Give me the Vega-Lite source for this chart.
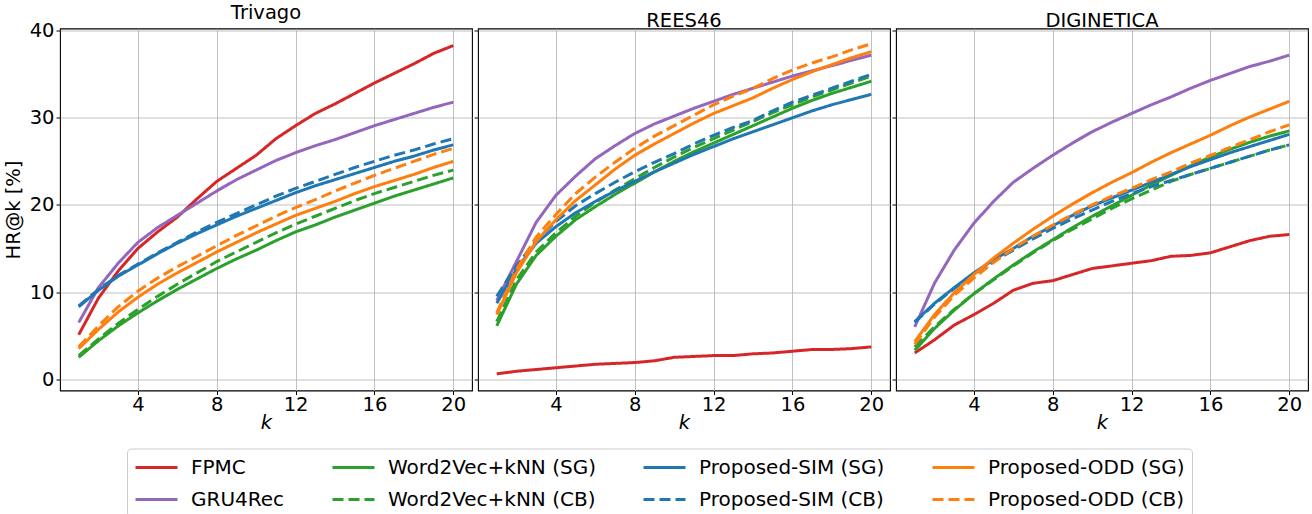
{
  "$schema": "https://vega.github.io/schema/vega-lite/v6.json",
  "padding": {"left": 2, "top": 1.5, "right": 2, "bottom": 0},
  "background": "white",
  "spacing": -1,
  "config": {
    "font": "DejaVu Sans",
    "view": {"stroke": "#000000", "strokeWidth": 1.1},
    "axis": {
      "domain": false,
      "grid": true,
      "gridColor": "#b0b0b0",
      "gridWidth": 0.8,
      "tickColor": "#000000",
      "tickSize": 4,
      "tickWidth": 1,
      "labelFontSize": 19.5,
      "labelColor": "#000000",
      "labelPadding": 2,
      "titleFontSize": 19.5,
      "titleFontWeight": "normal",
      "titleColor": "#000000"
    },
    "axisX": {"labelPadding": 1, "titlePadding": -1},
    "title": {"fontSize": 19.5, "fontWeight": "normal", "color": "#000000", "offset": -2.5},
    "legend": {
      "orient": "none",
      "legendX": 67,
      "legendY": 420,
      "columns": 4,
      "symbolType": "M-1,0H3",
      "symbolSize": 441,
      "symbolStrokeWidth": 3,
      "labelFontSize": 20,
      "labelColor": "#000000",
      "labelLimit": 400,
      "columnPadding": 41,
      "rowPadding": 10,
      "labelOffset": 33,
      "padding": 7,
      "strokeColor": "#cccccc",
      "cornerRadius": 4,
      "fillColor": "#ffffff"
    }
  },
  "resolve": {
    "scale": {"color": "shared", "strokeDash": "shared"},
    "legend": {"color": "shared", "strokeDash": "shared"}
  },
  "data": {"values": [
    {"dataset":"Trivago","method":"FPMC","k":1,"hr":5.1},{"dataset":"Trivago","method":"FPMC","k":2,"hr":9.3},{"dataset":"Trivago","method":"FPMC","k":3,"hr":12.4},{"dataset":"Trivago","method":"FPMC","k":4,"hr":15.0},{"dataset":"Trivago","method":"FPMC","k":5,"hr":16.9},{"dataset":"Trivago","method":"FPMC","k":6,"hr":18.6},{"dataset":"Trivago","method":"FPMC","k":7,"hr":20.7},{"dataset":"Trivago","method":"FPMC","k":8,"hr":22.7},{"dataset":"Trivago","method":"FPMC","k":9,"hr":24.2},{"dataset":"Trivago","method":"FPMC","k":10,"hr":25.7},{"dataset":"Trivago","method":"FPMC","k":11,"hr":27.6},{"dataset":"Trivago","method":"FPMC","k":12,"hr":29.1},{"dataset":"Trivago","method":"FPMC","k":13,"hr":30.5},{"dataset":"Trivago","method":"FPMC","k":14,"hr":31.6},{"dataset":"Trivago","method":"FPMC","k":15,"hr":32.8},{"dataset":"Trivago","method":"FPMC","k":16,"hr":34.0},{"dataset":"Trivago","method":"FPMC","k":17,"hr":35.1},{"dataset":"Trivago","method":"FPMC","k":18,"hr":36.2},{"dataset":"Trivago","method":"FPMC","k":19,"hr":37.4},{"dataset":"Trivago","method":"FPMC","k":20,"hr":38.3},
    {"dataset":"Trivago","method":"GRU4Rec","k":1,"hr":6.5},{"dataset":"Trivago","method":"GRU4Rec","k":2,"hr":10.5},{"dataset":"Trivago","method":"GRU4Rec","k":3,"hr":13.3},{"dataset":"Trivago","method":"GRU4Rec","k":4,"hr":15.7},{"dataset":"Trivago","method":"GRU4Rec","k":5,"hr":17.4},{"dataset":"Trivago","method":"GRU4Rec","k":6,"hr":18.8},{"dataset":"Trivago","method":"GRU4Rec","k":7,"hr":20.2},{"dataset":"Trivago","method":"GRU4Rec","k":8,"hr":21.6},{"dataset":"Trivago","method":"GRU4Rec","k":9,"hr":22.9},{"dataset":"Trivago","method":"GRU4Rec","k":10,"hr":24.0},{"dataset":"Trivago","method":"GRU4Rec","k":11,"hr":25.1},{"dataset":"Trivago","method":"GRU4Rec","k":12,"hr":26.0},{"dataset":"Trivago","method":"GRU4Rec","k":13,"hr":26.8},{"dataset":"Trivago","method":"GRU4Rec","k":14,"hr":27.5},{"dataset":"Trivago","method":"GRU4Rec","k":15,"hr":28.3},{"dataset":"Trivago","method":"GRU4Rec","k":16,"hr":29.1},{"dataset":"Trivago","method":"GRU4Rec","k":17,"hr":29.8},{"dataset":"Trivago","method":"GRU4Rec","k":18,"hr":30.5},{"dataset":"Trivago","method":"GRU4Rec","k":19,"hr":31.2},{"dataset":"Trivago","method":"GRU4Rec","k":20,"hr":31.8},
    {"dataset":"Trivago","method":"Word2Vec+kNN (SG)","k":1,"hr":2.5},{"dataset":"Trivago","method":"Word2Vec+kNN (SG)","k":2,"hr":4.4},{"dataset":"Trivago","method":"Word2Vec+kNN (SG)","k":3,"hr":6.1},{"dataset":"Trivago","method":"Word2Vec+kNN (SG)","k":4,"hr":7.6},{"dataset":"Trivago","method":"Word2Vec+kNN (SG)","k":5,"hr":9.0},{"dataset":"Trivago","method":"Word2Vec+kNN (SG)","k":6,"hr":10.3},{"dataset":"Trivago","method":"Word2Vec+kNN (SG)","k":7,"hr":11.5},{"dataset":"Trivago","method":"Word2Vec+kNN (SG)","k":8,"hr":12.7},{"dataset":"Trivago","method":"Word2Vec+kNN (SG)","k":9,"hr":13.8},{"dataset":"Trivago","method":"Word2Vec+kNN (SG)","k":10,"hr":14.8},{"dataset":"Trivago","method":"Word2Vec+kNN (SG)","k":11,"hr":15.9},{"dataset":"Trivago","method":"Word2Vec+kNN (SG)","k":12,"hr":16.9},{"dataset":"Trivago","method":"Word2Vec+kNN (SG)","k":13,"hr":17.7},{"dataset":"Trivago","method":"Word2Vec+kNN (SG)","k":14,"hr":18.6},{"dataset":"Trivago","method":"Word2Vec+kNN (SG)","k":15,"hr":19.4},{"dataset":"Trivago","method":"Word2Vec+kNN (SG)","k":16,"hr":20.2},{"dataset":"Trivago","method":"Word2Vec+kNN (SG)","k":17,"hr":21.0},{"dataset":"Trivago","method":"Word2Vec+kNN (SG)","k":18,"hr":21.7},{"dataset":"Trivago","method":"Word2Vec+kNN (SG)","k":19,"hr":22.4},{"dataset":"Trivago","method":"Word2Vec+kNN (SG)","k":20,"hr":23.1},
    {"dataset":"Trivago","method":"Word2Vec+kNN (CB)","k":1,"hr":2.7},{"dataset":"Trivago","method":"Word2Vec+kNN (CB)","k":2,"hr":4.6},{"dataset":"Trivago","method":"Word2Vec+kNN (CB)","k":3,"hr":6.4},{"dataset":"Trivago","method":"Word2Vec+kNN (CB)","k":4,"hr":8.0},{"dataset":"Trivago","method":"Word2Vec+kNN (CB)","k":5,"hr":9.5},{"dataset":"Trivago","method":"Word2Vec+kNN (CB)","k":6,"hr":10.9},{"dataset":"Trivago","method":"Word2Vec+kNN (CB)","k":7,"hr":12.2},{"dataset":"Trivago","method":"Word2Vec+kNN (CB)","k":8,"hr":13.5},{"dataset":"Trivago","method":"Word2Vec+kNN (CB)","k":9,"hr":14.6},{"dataset":"Trivago","method":"Word2Vec+kNN (CB)","k":10,"hr":15.7},{"dataset":"Trivago","method":"Word2Vec+kNN (CB)","k":11,"hr":16.8},{"dataset":"Trivago","method":"Word2Vec+kNN (CB)","k":12,"hr":17.8},{"dataset":"Trivago","method":"Word2Vec+kNN (CB)","k":13,"hr":18.7},{"dataset":"Trivago","method":"Word2Vec+kNN (CB)","k":14,"hr":19.6},{"dataset":"Trivago","method":"Word2Vec+kNN (CB)","k":15,"hr":20.5},{"dataset":"Trivago","method":"Word2Vec+kNN (CB)","k":16,"hr":21.3},{"dataset":"Trivago","method":"Word2Vec+kNN (CB)","k":17,"hr":22.0},{"dataset":"Trivago","method":"Word2Vec+kNN (CB)","k":18,"hr":22.7},{"dataset":"Trivago","method":"Word2Vec+kNN (CB)","k":19,"hr":23.4},{"dataset":"Trivago","method":"Word2Vec+kNN (CB)","k":20,"hr":24.0},
    {"dataset":"Trivago","method":"Proposed-SIM (SG)","k":1,"hr":8.3},{"dataset":"Trivago","method":"Proposed-SIM (SG)","k":2,"hr":10.2},{"dataset":"Trivago","method":"Proposed-SIM (SG)","k":3,"hr":11.8},{"dataset":"Trivago","method":"Proposed-SIM (SG)","k":4,"hr":13.1},{"dataset":"Trivago","method":"Proposed-SIM (SG)","k":5,"hr":14.4},{"dataset":"Trivago","method":"Proposed-SIM (SG)","k":6,"hr":15.6},{"dataset":"Trivago","method":"Proposed-SIM (SG)","k":7,"hr":16.7},{"dataset":"Trivago","method":"Proposed-SIM (SG)","k":8,"hr":17.7},{"dataset":"Trivago","method":"Proposed-SIM (SG)","k":9,"hr":18.7},{"dataset":"Trivago","method":"Proposed-SIM (SG)","k":10,"hr":19.6},{"dataset":"Trivago","method":"Proposed-SIM (SG)","k":11,"hr":20.5},{"dataset":"Trivago","method":"Proposed-SIM (SG)","k":12,"hr":21.4},{"dataset":"Trivago","method":"Proposed-SIM (SG)","k":13,"hr":22.2},{"dataset":"Trivago","method":"Proposed-SIM (SG)","k":14,"hr":22.9},{"dataset":"Trivago","method":"Proposed-SIM (SG)","k":15,"hr":23.6},{"dataset":"Trivago","method":"Proposed-SIM (SG)","k":16,"hr":24.3},{"dataset":"Trivago","method":"Proposed-SIM (SG)","k":17,"hr":25.0},{"dataset":"Trivago","method":"Proposed-SIM (SG)","k":18,"hr":25.6},{"dataset":"Trivago","method":"Proposed-SIM (SG)","k":19,"hr":26.3},{"dataset":"Trivago","method":"Proposed-SIM (SG)","k":20,"hr":26.9},
    {"dataset":"Trivago","method":"Proposed-SIM (CB)","k":1,"hr":8.4},{"dataset":"Trivago","method":"Proposed-SIM (CB)","k":2,"hr":10.3},{"dataset":"Trivago","method":"Proposed-SIM (CB)","k":3,"hr":11.9},{"dataset":"Trivago","method":"Proposed-SIM (CB)","k":4,"hr":13.2},{"dataset":"Trivago","method":"Proposed-SIM (CB)","k":5,"hr":14.5},{"dataset":"Trivago","method":"Proposed-SIM (CB)","k":6,"hr":15.7},{"dataset":"Trivago","method":"Proposed-SIM (CB)","k":7,"hr":16.9},{"dataset":"Trivago","method":"Proposed-SIM (CB)","k":8,"hr":18.0},{"dataset":"Trivago","method":"Proposed-SIM (CB)","k":9,"hr":19.0},{"dataset":"Trivago","method":"Proposed-SIM (CB)","k":10,"hr":20.0},{"dataset":"Trivago","method":"Proposed-SIM (CB)","k":11,"hr":21.0},{"dataset":"Trivago","method":"Proposed-SIM (CB)","k":12,"hr":21.9},{"dataset":"Trivago","method":"Proposed-SIM (CB)","k":13,"hr":22.7},{"dataset":"Trivago","method":"Proposed-SIM (CB)","k":14,"hr":23.5},{"dataset":"Trivago","method":"Proposed-SIM (CB)","k":15,"hr":24.3},{"dataset":"Trivago","method":"Proposed-SIM (CB)","k":16,"hr":25.0},{"dataset":"Trivago","method":"Proposed-SIM (CB)","k":17,"hr":25.7},{"dataset":"Trivago","method":"Proposed-SIM (CB)","k":18,"hr":26.3},{"dataset":"Trivago","method":"Proposed-SIM (CB)","k":19,"hr":27.0},{"dataset":"Trivago","method":"Proposed-SIM (CB)","k":20,"hr":27.6},
    {"dataset":"Trivago","method":"Proposed-ODD (SG)","k":1,"hr":3.5},{"dataset":"Trivago","method":"Proposed-ODD (SG)","k":2,"hr":5.7},{"dataset":"Trivago","method":"Proposed-ODD (SG)","k":3,"hr":7.7},{"dataset":"Trivago","method":"Proposed-ODD (SG)","k":4,"hr":9.4},{"dataset":"Trivago","method":"Proposed-ODD (SG)","k":5,"hr":10.9},{"dataset":"Trivago","method":"Proposed-ODD (SG)","k":6,"hr":12.2},{"dataset":"Trivago","method":"Proposed-ODD (SG)","k":7,"hr":13.4},{"dataset":"Trivago","method":"Proposed-ODD (SG)","k":8,"hr":14.6},{"dataset":"Trivago","method":"Proposed-ODD (SG)","k":9,"hr":15.7},{"dataset":"Trivago","method":"Proposed-ODD (SG)","k":10,"hr":16.8},{"dataset":"Trivago","method":"Proposed-ODD (SG)","k":11,"hr":17.8},{"dataset":"Trivago","method":"Proposed-ODD (SG)","k":12,"hr":18.8},{"dataset":"Trivago","method":"Proposed-ODD (SG)","k":13,"hr":19.6},{"dataset":"Trivago","method":"Proposed-ODD (SG)","k":14,"hr":20.4},{"dataset":"Trivago","method":"Proposed-ODD (SG)","k":15,"hr":21.3},{"dataset":"Trivago","method":"Proposed-ODD (SG)","k":16,"hr":22.1},{"dataset":"Trivago","method":"Proposed-ODD (SG)","k":17,"hr":22.8},{"dataset":"Trivago","method":"Proposed-ODD (SG)","k":18,"hr":23.5},{"dataset":"Trivago","method":"Proposed-ODD (SG)","k":19,"hr":24.3},{"dataset":"Trivago","method":"Proposed-ODD (SG)","k":20,"hr":25.0},
    {"dataset":"Trivago","method":"Proposed-ODD (CB)","k":1,"hr":3.7},{"dataset":"Trivago","method":"Proposed-ODD (CB)","k":2,"hr":6.1},{"dataset":"Trivago","method":"Proposed-ODD (CB)","k":3,"hr":8.3},{"dataset":"Trivago","method":"Proposed-ODD (CB)","k":4,"hr":10.1},{"dataset":"Trivago","method":"Proposed-ODD (CB)","k":5,"hr":11.6},{"dataset":"Trivago","method":"Proposed-ODD (CB)","k":6,"hr":12.9},{"dataset":"Trivago","method":"Proposed-ODD (CB)","k":7,"hr":14.1},{"dataset":"Trivago","method":"Proposed-ODD (CB)","k":8,"hr":15.3},{"dataset":"Trivago","method":"Proposed-ODD (CB)","k":9,"hr":16.5},{"dataset":"Trivago","method":"Proposed-ODD (CB)","k":10,"hr":17.6},{"dataset":"Trivago","method":"Proposed-ODD (CB)","k":11,"hr":18.7},{"dataset":"Trivago","method":"Proposed-ODD (CB)","k":12,"hr":19.7},{"dataset":"Trivago","method":"Proposed-ODD (CB)","k":13,"hr":20.6},{"dataset":"Trivago","method":"Proposed-ODD (CB)","k":14,"hr":21.6},{"dataset":"Trivago","method":"Proposed-ODD (CB)","k":15,"hr":22.5},{"dataset":"Trivago","method":"Proposed-ODD (CB)","k":16,"hr":23.4},{"dataset":"Trivago","method":"Proposed-ODD (CB)","k":17,"hr":24.2},{"dataset":"Trivago","method":"Proposed-ODD (CB)","k":18,"hr":25.0},{"dataset":"Trivago","method":"Proposed-ODD (CB)","k":19,"hr":25.8},{"dataset":"Trivago","method":"Proposed-ODD (CB)","k":20,"hr":26.5},
    {"dataset":"REES46","method":"FPMC","k":1,"hr":0.6},{"dataset":"REES46","method":"FPMC","k":2,"hr":0.9},{"dataset":"REES46","method":"FPMC","k":3,"hr":1.1},{"dataset":"REES46","method":"FPMC","k":4,"hr":1.3},{"dataset":"REES46","method":"FPMC","k":5,"hr":1.5},{"dataset":"REES46","method":"FPMC","k":6,"hr":1.7},{"dataset":"REES46","method":"FPMC","k":7,"hr":1.8},{"dataset":"REES46","method":"FPMC","k":8,"hr":1.9},{"dataset":"REES46","method":"FPMC","k":9,"hr":2.1},{"dataset":"REES46","method":"FPMC","k":10,"hr":2.5},{"dataset":"REES46","method":"FPMC","k":11,"hr":2.6},{"dataset":"REES46","method":"FPMC","k":12,"hr":2.7},{"dataset":"REES46","method":"FPMC","k":13,"hr":2.7},{"dataset":"REES46","method":"FPMC","k":14,"hr":2.9},{"dataset":"REES46","method":"FPMC","k":15,"hr":3.0},{"dataset":"REES46","method":"FPMC","k":16,"hr":3.2},{"dataset":"REES46","method":"FPMC","k":17,"hr":3.4},{"dataset":"REES46","method":"FPMC","k":18,"hr":3.4},{"dataset":"REES46","method":"FPMC","k":19,"hr":3.5},{"dataset":"REES46","method":"FPMC","k":20,"hr":3.7},
    {"dataset":"REES46","method":"GRU4Rec","k":1,"hr":9.0},{"dataset":"REES46","method":"GRU4Rec","k":2,"hr":13.5},{"dataset":"REES46","method":"GRU4Rec","k":3,"hr":18.0},{"dataset":"REES46","method":"GRU4Rec","k":4,"hr":21.1},{"dataset":"REES46","method":"GRU4Rec","k":5,"hr":23.3},{"dataset":"REES46","method":"GRU4Rec","k":6,"hr":25.3},{"dataset":"REES46","method":"GRU4Rec","k":7,"hr":26.8},{"dataset":"REES46","method":"GRU4Rec","k":8,"hr":28.2},{"dataset":"REES46","method":"GRU4Rec","k":9,"hr":29.3},{"dataset":"REES46","method":"GRU4Rec","k":10,"hr":30.2},{"dataset":"REES46","method":"GRU4Rec","k":11,"hr":31.1},{"dataset":"REES46","method":"GRU4Rec","k":12,"hr":31.9},{"dataset":"REES46","method":"GRU4Rec","k":13,"hr":32.7},{"dataset":"REES46","method":"GRU4Rec","k":14,"hr":33.4},{"dataset":"REES46","method":"GRU4Rec","k":15,"hr":34.1},{"dataset":"REES46","method":"GRU4Rec","k":16,"hr":34.8},{"dataset":"REES46","method":"GRU4Rec","k":17,"hr":35.4},{"dataset":"REES46","method":"GRU4Rec","k":18,"hr":36.0},{"dataset":"REES46","method":"GRU4Rec","k":19,"hr":36.6},{"dataset":"REES46","method":"GRU4Rec","k":20,"hr":37.2},
    {"dataset":"REES46","method":"Word2Vec+kNN (SG)","k":1,"hr":6.1},{"dataset":"REES46","method":"Word2Vec+kNN (SG)","k":2,"hr":10.9},{"dataset":"REES46","method":"Word2Vec+kNN (SG)","k":3,"hr":14.2},{"dataset":"REES46","method":"Word2Vec+kNN (SG)","k":4,"hr":16.4},{"dataset":"REES46","method":"Word2Vec+kNN (SG)","k":5,"hr":18.3},{"dataset":"REES46","method":"Word2Vec+kNN (SG)","k":6,"hr":19.8},{"dataset":"REES46","method":"Word2Vec+kNN (SG)","k":7,"hr":21.2},{"dataset":"REES46","method":"Word2Vec+kNN (SG)","k":8,"hr":22.5},{"dataset":"REES46","method":"Word2Vec+kNN (SG)","k":9,"hr":23.8},{"dataset":"REES46","method":"Word2Vec+kNN (SG)","k":10,"hr":25.0},{"dataset":"REES46","method":"Word2Vec+kNN (SG)","k":11,"hr":26.1},{"dataset":"REES46","method":"Word2Vec+kNN (SG)","k":12,"hr":27.1},{"dataset":"REES46","method":"Word2Vec+kNN (SG)","k":13,"hr":28.1},{"dataset":"REES46","method":"Word2Vec+kNN (SG)","k":14,"hr":29.1},{"dataset":"REES46","method":"Word2Vec+kNN (SG)","k":15,"hr":30.1},{"dataset":"REES46","method":"Word2Vec+kNN (SG)","k":16,"hr":31.1},{"dataset":"REES46","method":"Word2Vec+kNN (SG)","k":17,"hr":32.0},{"dataset":"REES46","method":"Word2Vec+kNN (SG)","k":18,"hr":32.8},{"dataset":"REES46","method":"Word2Vec+kNN (SG)","k":19,"hr":33.5},{"dataset":"REES46","method":"Word2Vec+kNN (SG)","k":20,"hr":34.2},
    {"dataset":"REES46","method":"Word2Vec+kNN (CB)","k":1,"hr":6.6},{"dataset":"REES46","method":"Word2Vec+kNN (CB)","k":2,"hr":11.4},{"dataset":"REES46","method":"Word2Vec+kNN (CB)","k":3,"hr":14.6},{"dataset":"REES46","method":"Word2Vec+kNN (CB)","k":4,"hr":16.8},{"dataset":"REES46","method":"Word2Vec+kNN (CB)","k":5,"hr":18.7},{"dataset":"REES46","method":"Word2Vec+kNN (CB)","k":6,"hr":20.3},{"dataset":"REES46","method":"Word2Vec+kNN (CB)","k":7,"hr":21.7},{"dataset":"REES46","method":"Word2Vec+kNN (CB)","k":8,"hr":23.0},{"dataset":"REES46","method":"Word2Vec+kNN (CB)","k":9,"hr":24.3},{"dataset":"REES46","method":"Word2Vec+kNN (CB)","k":10,"hr":25.5},{"dataset":"REES46","method":"Word2Vec+kNN (CB)","k":11,"hr":26.6},{"dataset":"REES46","method":"Word2Vec+kNN (CB)","k":12,"hr":27.6},{"dataset":"REES46","method":"Word2Vec+kNN (CB)","k":13,"hr":28.6},{"dataset":"REES46","method":"Word2Vec+kNN (CB)","k":14,"hr":29.6},{"dataset":"REES46","method":"Word2Vec+kNN (CB)","k":15,"hr":30.6},{"dataset":"REES46","method":"Word2Vec+kNN (CB)","k":16,"hr":31.5},{"dataset":"REES46","method":"Word2Vec+kNN (CB)","k":17,"hr":32.4},{"dataset":"REES46","method":"Word2Vec+kNN (CB)","k":18,"hr":33.2},{"dataset":"REES46","method":"Word2Vec+kNN (CB)","k":19,"hr":34.0},{"dataset":"REES46","method":"Word2Vec+kNN (CB)","k":20,"hr":34.8},
    {"dataset":"REES46","method":"Proposed-SIM (SG)","k":1,"hr":8.7},{"dataset":"REES46","method":"Proposed-SIM (SG)","k":2,"hr":12.6},{"dataset":"REES46","method":"Proposed-SIM (SG)","k":3,"hr":15.6},{"dataset":"REES46","method":"Proposed-SIM (SG)","k":4,"hr":17.5},{"dataset":"REES46","method":"Proposed-SIM (SG)","k":5,"hr":19.1},{"dataset":"REES46","method":"Proposed-SIM (SG)","k":6,"hr":20.4},{"dataset":"REES46","method":"Proposed-SIM (SG)","k":7,"hr":21.6},{"dataset":"REES46","method":"Proposed-SIM (SG)","k":8,"hr":22.7},{"dataset":"REES46","method":"Proposed-SIM (SG)","k":9,"hr":23.8},{"dataset":"REES46","method":"Proposed-SIM (SG)","k":10,"hr":24.8},{"dataset":"REES46","method":"Proposed-SIM (SG)","k":11,"hr":25.8},{"dataset":"REES46","method":"Proposed-SIM (SG)","k":12,"hr":26.7},{"dataset":"REES46","method":"Proposed-SIM (SG)","k":13,"hr":27.6},{"dataset":"REES46","method":"Proposed-SIM (SG)","k":14,"hr":28.4},{"dataset":"REES46","method":"Proposed-SIM (SG)","k":15,"hr":29.2},{"dataset":"REES46","method":"Proposed-SIM (SG)","k":16,"hr":30.0},{"dataset":"REES46","method":"Proposed-SIM (SG)","k":17,"hr":30.8},{"dataset":"REES46","method":"Proposed-SIM (SG)","k":18,"hr":31.5},{"dataset":"REES46","method":"Proposed-SIM (SG)","k":19,"hr":32.1},{"dataset":"REES46","method":"Proposed-SIM (SG)","k":20,"hr":32.7},
    {"dataset":"REES46","method":"Proposed-SIM (CB)","k":1,"hr":9.5},{"dataset":"REES46","method":"Proposed-SIM (CB)","k":2,"hr":13.0},{"dataset":"REES46","method":"Proposed-SIM (CB)","k":3,"hr":15.9},{"dataset":"REES46","method":"Proposed-SIM (CB)","k":4,"hr":18.1},{"dataset":"REES46","method":"Proposed-SIM (CB)","k":5,"hr":19.9},{"dataset":"REES46","method":"Proposed-SIM (CB)","k":6,"hr":21.3},{"dataset":"REES46","method":"Proposed-SIM (CB)","k":7,"hr":22.6},{"dataset":"REES46","method":"Proposed-SIM (CB)","k":8,"hr":23.8},{"dataset":"REES46","method":"Proposed-SIM (CB)","k":9,"hr":24.9},{"dataset":"REES46","method":"Proposed-SIM (CB)","k":10,"hr":25.9},{"dataset":"REES46","method":"Proposed-SIM (CB)","k":11,"hr":27.0},{"dataset":"REES46","method":"Proposed-SIM (CB)","k":12,"hr":28.0},{"dataset":"REES46","method":"Proposed-SIM (CB)","k":13,"hr":28.9},{"dataset":"REES46","method":"Proposed-SIM (CB)","k":14,"hr":29.7},{"dataset":"REES46","method":"Proposed-SIM (CB)","k":15,"hr":30.8},{"dataset":"REES46","method":"Proposed-SIM (CB)","k":16,"hr":31.8},{"dataset":"REES46","method":"Proposed-SIM (CB)","k":17,"hr":32.6},{"dataset":"REES46","method":"Proposed-SIM (CB)","k":18,"hr":33.4},{"dataset":"REES46","method":"Proposed-SIM (CB)","k":19,"hr":34.2},{"dataset":"REES46","method":"Proposed-SIM (CB)","k":20,"hr":35.0},
    {"dataset":"REES46","method":"Proposed-ODD (SG)","k":1,"hr":7.4},{"dataset":"REES46","method":"Proposed-ODD (SG)","k":2,"hr":12.2},{"dataset":"REES46","method":"Proposed-ODD (SG)","k":3,"hr":15.8},{"dataset":"REES46","method":"Proposed-ODD (SG)","k":4,"hr":18.3},{"dataset":"REES46","method":"Proposed-ODD (SG)","k":5,"hr":20.5},{"dataset":"REES46","method":"Proposed-ODD (SG)","k":6,"hr":22.3},{"dataset":"REES46","method":"Proposed-ODD (SG)","k":7,"hr":24.1},{"dataset":"REES46","method":"Proposed-ODD (SG)","k":8,"hr":25.7},{"dataset":"REES46","method":"Proposed-ODD (SG)","k":9,"hr":27.0},{"dataset":"REES46","method":"Proposed-ODD (SG)","k":10,"hr":28.2},{"dataset":"REES46","method":"Proposed-ODD (SG)","k":11,"hr":29.4},{"dataset":"REES46","method":"Proposed-ODD (SG)","k":12,"hr":30.5},{"dataset":"REES46","method":"Proposed-ODD (SG)","k":13,"hr":31.4},{"dataset":"REES46","method":"Proposed-ODD (SG)","k":14,"hr":32.3},{"dataset":"REES46","method":"Proposed-ODD (SG)","k":15,"hr":33.4},{"dataset":"REES46","method":"Proposed-ODD (SG)","k":16,"hr":34.4},{"dataset":"REES46","method":"Proposed-ODD (SG)","k":17,"hr":35.3},{"dataset":"REES46","method":"Proposed-ODD (SG)","k":18,"hr":36.1},{"dataset":"REES46","method":"Proposed-ODD (SG)","k":19,"hr":36.9},{"dataset":"REES46","method":"Proposed-ODD (SG)","k":20,"hr":37.6},
    {"dataset":"REES46","method":"Proposed-ODD (CB)","k":1,"hr":7.6},{"dataset":"REES46","method":"Proposed-ODD (CB)","k":2,"hr":12.6},{"dataset":"REES46","method":"Proposed-ODD (CB)","k":3,"hr":16.3},{"dataset":"REES46","method":"Proposed-ODD (CB)","k":4,"hr":18.9},{"dataset":"REES46","method":"Proposed-ODD (CB)","k":5,"hr":21.3},{"dataset":"REES46","method":"Proposed-ODD (CB)","k":6,"hr":23.2},{"dataset":"REES46","method":"Proposed-ODD (CB)","k":7,"hr":24.9},{"dataset":"REES46","method":"Proposed-ODD (CB)","k":8,"hr":26.5},{"dataset":"REES46","method":"Proposed-ODD (CB)","k":9,"hr":27.9},{"dataset":"REES46","method":"Proposed-ODD (CB)","k":10,"hr":29.1},{"dataset":"REES46","method":"Proposed-ODD (CB)","k":11,"hr":30.3},{"dataset":"REES46","method":"Proposed-ODD (CB)","k":12,"hr":31.5},{"dataset":"REES46","method":"Proposed-ODD (CB)","k":13,"hr":32.5},{"dataset":"REES46","method":"Proposed-ODD (CB)","k":14,"hr":33.4},{"dataset":"REES46","method":"Proposed-ODD (CB)","k":15,"hr":34.5},{"dataset":"REES46","method":"Proposed-ODD (CB)","k":16,"hr":35.5},{"dataset":"REES46","method":"Proposed-ODD (CB)","k":17,"hr":36.3},{"dataset":"REES46","method":"Proposed-ODD (CB)","k":18,"hr":37.0},{"dataset":"REES46","method":"Proposed-ODD (CB)","k":19,"hr":37.8},{"dataset":"REES46","method":"Proposed-ODD (CB)","k":20,"hr":38.5},
    {"dataset":"DIGINETICA","method":"FPMC","k":1,"hr":3.0},{"dataset":"DIGINETICA","method":"FPMC","k":2,"hr":4.5},{"dataset":"DIGINETICA","method":"FPMC","k":3,"hr":6.2},{"dataset":"DIGINETICA","method":"FPMC","k":4,"hr":7.4},{"dataset":"DIGINETICA","method":"FPMC","k":5,"hr":8.7},{"dataset":"DIGINETICA","method":"FPMC","k":6,"hr":10.2},{"dataset":"DIGINETICA","method":"FPMC","k":7,"hr":11.0},{"dataset":"DIGINETICA","method":"FPMC","k":8,"hr":11.3},{"dataset":"DIGINETICA","method":"FPMC","k":9,"hr":12.0},{"dataset":"DIGINETICA","method":"FPMC","k":10,"hr":12.7},{"dataset":"DIGINETICA","method":"FPMC","k":11,"hr":13.0},{"dataset":"DIGINETICA","method":"FPMC","k":12,"hr":13.3},{"dataset":"DIGINETICA","method":"FPMC","k":13,"hr":13.6},{"dataset":"DIGINETICA","method":"FPMC","k":14,"hr":14.1},{"dataset":"DIGINETICA","method":"FPMC","k":15,"hr":14.2},{"dataset":"DIGINETICA","method":"FPMC","k":16,"hr":14.5},{"dataset":"DIGINETICA","method":"FPMC","k":17,"hr":15.2},{"dataset":"DIGINETICA","method":"FPMC","k":18,"hr":15.9},{"dataset":"DIGINETICA","method":"FPMC","k":19,"hr":16.4},{"dataset":"DIGINETICA","method":"FPMC","k":20,"hr":16.6},
    {"dataset":"DIGINETICA","method":"GRU4Rec","k":1,"hr":6.0},{"dataset":"DIGINETICA","method":"GRU4Rec","k":2,"hr":11.0},{"dataset":"DIGINETICA","method":"GRU4Rec","k":3,"hr":14.8},{"dataset":"DIGINETICA","method":"GRU4Rec","k":4,"hr":17.9},{"dataset":"DIGINETICA","method":"GRU4Rec","k":5,"hr":20.4},{"dataset":"DIGINETICA","method":"GRU4Rec","k":6,"hr":22.6},{"dataset":"DIGINETICA","method":"GRU4Rec","k":7,"hr":24.2},{"dataset":"DIGINETICA","method":"GRU4Rec","k":8,"hr":25.7},{"dataset":"DIGINETICA","method":"GRU4Rec","k":9,"hr":27.1},{"dataset":"DIGINETICA","method":"GRU4Rec","k":10,"hr":28.4},{"dataset":"DIGINETICA","method":"GRU4Rec","k":11,"hr":29.5},{"dataset":"DIGINETICA","method":"GRU4Rec","k":12,"hr":30.5},{"dataset":"DIGINETICA","method":"GRU4Rec","k":13,"hr":31.5},{"dataset":"DIGINETICA","method":"GRU4Rec","k":14,"hr":32.4},{"dataset":"DIGINETICA","method":"GRU4Rec","k":15,"hr":33.4},{"dataset":"DIGINETICA","method":"GRU4Rec","k":16,"hr":34.3},{"dataset":"DIGINETICA","method":"GRU4Rec","k":17,"hr":35.1},{"dataset":"DIGINETICA","method":"GRU4Rec","k":18,"hr":35.9},{"dataset":"DIGINETICA","method":"GRU4Rec","k":19,"hr":36.5},{"dataset":"DIGINETICA","method":"GRU4Rec","k":20,"hr":37.2},
    {"dataset":"DIGINETICA","method":"Word2Vec+kNN (SG)","k":1,"hr":3.3},{"dataset":"DIGINETICA","method":"Word2Vec+kNN (SG)","k":2,"hr":5.8},{"dataset":"DIGINETICA","method":"Word2Vec+kNN (SG)","k":3,"hr":7.9},{"dataset":"DIGINETICA","method":"Word2Vec+kNN (SG)","k":4,"hr":9.8},{"dataset":"DIGINETICA","method":"Word2Vec+kNN (SG)","k":5,"hr":11.5},{"dataset":"DIGINETICA","method":"Word2Vec+kNN (SG)","k":6,"hr":13.1},{"dataset":"DIGINETICA","method":"Word2Vec+kNN (SG)","k":7,"hr":14.6},{"dataset":"DIGINETICA","method":"Word2Vec+kNN (SG)","k":8,"hr":16.0},{"dataset":"DIGINETICA","method":"Word2Vec+kNN (SG)","k":9,"hr":17.4},{"dataset":"DIGINETICA","method":"Word2Vec+kNN (SG)","k":10,"hr":18.7},{"dataset":"DIGINETICA","method":"Word2Vec+kNN (SG)","k":11,"hr":19.9},{"dataset":"DIGINETICA","method":"Word2Vec+kNN (SG)","k":12,"hr":21.1},{"dataset":"DIGINETICA","method":"Word2Vec+kNN (SG)","k":13,"hr":22.3},{"dataset":"DIGINETICA","method":"Word2Vec+kNN (SG)","k":14,"hr":23.4},{"dataset":"DIGINETICA","method":"Word2Vec+kNN (SG)","k":15,"hr":24.5},{"dataset":"DIGINETICA","method":"Word2Vec+kNN (SG)","k":16,"hr":25.5},{"dataset":"DIGINETICA","method":"Word2Vec+kNN (SG)","k":17,"hr":26.4},{"dataset":"DIGINETICA","method":"Word2Vec+kNN (SG)","k":18,"hr":27.2},{"dataset":"DIGINETICA","method":"Word2Vec+kNN (SG)","k":19,"hr":27.9},{"dataset":"DIGINETICA","method":"Word2Vec+kNN (SG)","k":20,"hr":28.5},
    {"dataset":"DIGINETICA","method":"Word2Vec+kNN (CB)","k":1,"hr":3.7},{"dataset":"DIGINETICA","method":"Word2Vec+kNN (CB)","k":2,"hr":6.0},{"dataset":"DIGINETICA","method":"Word2Vec+kNN (CB)","k":3,"hr":8.0},{"dataset":"DIGINETICA","method":"Word2Vec+kNN (CB)","k":4,"hr":9.8},{"dataset":"DIGINETICA","method":"Word2Vec+kNN (CB)","k":5,"hr":11.4},{"dataset":"DIGINETICA","method":"Word2Vec+kNN (CB)","k":6,"hr":13.0},{"dataset":"DIGINETICA","method":"Word2Vec+kNN (CB)","k":7,"hr":14.5},{"dataset":"DIGINETICA","method":"Word2Vec+kNN (CB)","k":8,"hr":15.9},{"dataset":"DIGINETICA","method":"Word2Vec+kNN (CB)","k":9,"hr":17.2},{"dataset":"DIGINETICA","method":"Word2Vec+kNN (CB)","k":10,"hr":18.4},{"dataset":"DIGINETICA","method":"Word2Vec+kNN (CB)","k":11,"hr":19.6},{"dataset":"DIGINETICA","method":"Word2Vec+kNN (CB)","k":12,"hr":20.7},{"dataset":"DIGINETICA","method":"Word2Vec+kNN (CB)","k":13,"hr":21.7},{"dataset":"DIGINETICA","method":"Word2Vec+kNN (CB)","k":14,"hr":22.7},{"dataset":"DIGINETICA","method":"Word2Vec+kNN (CB)","k":15,"hr":23.5},{"dataset":"DIGINETICA","method":"Word2Vec+kNN (CB)","k":16,"hr":24.2},{"dataset":"DIGINETICA","method":"Word2Vec+kNN (CB)","k":17,"hr":24.9},{"dataset":"DIGINETICA","method":"Word2Vec+kNN (CB)","k":18,"hr":25.6},{"dataset":"DIGINETICA","method":"Word2Vec+kNN (CB)","k":19,"hr":26.3},{"dataset":"DIGINETICA","method":"Word2Vec+kNN (CB)","k":20,"hr":26.9},
    {"dataset":"DIGINETICA","method":"Proposed-SIM (SG)","k":1,"hr":6.6},{"dataset":"DIGINETICA","method":"Proposed-SIM (SG)","k":2,"hr":8.7},{"dataset":"DIGINETICA","method":"Proposed-SIM (SG)","k":3,"hr":10.5},{"dataset":"DIGINETICA","method":"Proposed-SIM (SG)","k":4,"hr":12.2},{"dataset":"DIGINETICA","method":"Proposed-SIM (SG)","k":5,"hr":13.7},{"dataset":"DIGINETICA","method":"Proposed-SIM (SG)","k":6,"hr":15.0},{"dataset":"DIGINETICA","method":"Proposed-SIM (SG)","k":7,"hr":16.4},{"dataset":"DIGINETICA","method":"Proposed-SIM (SG)","k":8,"hr":17.6},{"dataset":"DIGINETICA","method":"Proposed-SIM (SG)","k":9,"hr":18.8},{"dataset":"DIGINETICA","method":"Proposed-SIM (SG)","k":10,"hr":19.9},{"dataset":"DIGINETICA","method":"Proposed-SIM (SG)","k":11,"hr":20.8},{"dataset":"DIGINETICA","method":"Proposed-SIM (SG)","k":12,"hr":21.7},{"dataset":"DIGINETICA","method":"Proposed-SIM (SG)","k":13,"hr":22.6},{"dataset":"DIGINETICA","method":"Proposed-SIM (SG)","k":14,"hr":23.5},{"dataset":"DIGINETICA","method":"Proposed-SIM (SG)","k":15,"hr":24.4},{"dataset":"DIGINETICA","method":"Proposed-SIM (SG)","k":16,"hr":25.2},{"dataset":"DIGINETICA","method":"Proposed-SIM (SG)","k":17,"hr":26.0},{"dataset":"DIGINETICA","method":"Proposed-SIM (SG)","k":18,"hr":26.7},{"dataset":"DIGINETICA","method":"Proposed-SIM (SG)","k":19,"hr":27.4},{"dataset":"DIGINETICA","method":"Proposed-SIM (SG)","k":20,"hr":28.1},
    {"dataset":"DIGINETICA","method":"Proposed-SIM (CB)","k":1,"hr":6.5},{"dataset":"DIGINETICA","method":"Proposed-SIM (CB)","k":2,"hr":8.6},{"dataset":"DIGINETICA","method":"Proposed-SIM (CB)","k":3,"hr":10.4},{"dataset":"DIGINETICA","method":"Proposed-SIM (CB)","k":4,"hr":12.0},{"dataset":"DIGINETICA","method":"Proposed-SIM (CB)","k":5,"hr":13.5},{"dataset":"DIGINETICA","method":"Proposed-SIM (CB)","k":6,"hr":14.8},{"dataset":"DIGINETICA","method":"Proposed-SIM (CB)","k":7,"hr":16.1},{"dataset":"DIGINETICA","method":"Proposed-SIM (CB)","k":8,"hr":17.3},{"dataset":"DIGINETICA","method":"Proposed-SIM (CB)","k":9,"hr":18.4},{"dataset":"DIGINETICA","method":"Proposed-SIM (CB)","k":10,"hr":19.4},{"dataset":"DIGINETICA","method":"Proposed-SIM (CB)","k":11,"hr":20.4},{"dataset":"DIGINETICA","method":"Proposed-SIM (CB)","k":12,"hr":21.3},{"dataset":"DIGINETICA","method":"Proposed-SIM (CB)","k":13,"hr":22.1},{"dataset":"DIGINETICA","method":"Proposed-SIM (CB)","k":14,"hr":22.8},{"dataset":"DIGINETICA","method":"Proposed-SIM (CB)","k":15,"hr":23.5},{"dataset":"DIGINETICA","method":"Proposed-SIM (CB)","k":16,"hr":24.2},{"dataset":"DIGINETICA","method":"Proposed-SIM (CB)","k":17,"hr":24.9},{"dataset":"DIGINETICA","method":"Proposed-SIM (CB)","k":18,"hr":25.6},{"dataset":"DIGINETICA","method":"Proposed-SIM (CB)","k":19,"hr":26.3},{"dataset":"DIGINETICA","method":"Proposed-SIM (CB)","k":20,"hr":26.9},
    {"dataset":"DIGINETICA","method":"Proposed-ODD (SG)","k":1,"hr":4.3},{"dataset":"DIGINETICA","method":"Proposed-ODD (SG)","k":2,"hr":7.4},{"dataset":"DIGINETICA","method":"Proposed-ODD (SG)","k":3,"hr":9.9},{"dataset":"DIGINETICA","method":"Proposed-ODD (SG)","k":4,"hr":12.0},{"dataset":"DIGINETICA","method":"Proposed-ODD (SG)","k":5,"hr":13.9},{"dataset":"DIGINETICA","method":"Proposed-ODD (SG)","k":6,"hr":15.6},{"dataset":"DIGINETICA","method":"Proposed-ODD (SG)","k":7,"hr":17.2},{"dataset":"DIGINETICA","method":"Proposed-ODD (SG)","k":8,"hr":18.7},{"dataset":"DIGINETICA","method":"Proposed-ODD (SG)","k":9,"hr":20.1},{"dataset":"DIGINETICA","method":"Proposed-ODD (SG)","k":10,"hr":21.4},{"dataset":"DIGINETICA","method":"Proposed-ODD (SG)","k":11,"hr":22.6},{"dataset":"DIGINETICA","method":"Proposed-ODD (SG)","k":12,"hr":23.7},{"dataset":"DIGINETICA","method":"Proposed-ODD (SG)","k":13,"hr":24.9},{"dataset":"DIGINETICA","method":"Proposed-ODD (SG)","k":14,"hr":26.0},{"dataset":"DIGINETICA","method":"Proposed-ODD (SG)","k":15,"hr":27.0},{"dataset":"DIGINETICA","method":"Proposed-ODD (SG)","k":16,"hr":28.0},{"dataset":"DIGINETICA","method":"Proposed-ODD (SG)","k":17,"hr":29.1},{"dataset":"DIGINETICA","method":"Proposed-ODD (SG)","k":18,"hr":30.1},{"dataset":"DIGINETICA","method":"Proposed-ODD (SG)","k":19,"hr":31.0},{"dataset":"DIGINETICA","method":"Proposed-ODD (SG)","k":20,"hr":31.9},
    {"dataset":"DIGINETICA","method":"Proposed-ODD (CB)","k":1,"hr":4.0},{"dataset":"DIGINETICA","method":"Proposed-ODD (CB)","k":2,"hr":7.1},{"dataset":"DIGINETICA","method":"Proposed-ODD (CB)","k":3,"hr":9.6},{"dataset":"DIGINETICA","method":"Proposed-ODD (CB)","k":4,"hr":11.6},{"dataset":"DIGINETICA","method":"Proposed-ODD (CB)","k":5,"hr":13.4},{"dataset":"DIGINETICA","method":"Proposed-ODD (CB)","k":6,"hr":15.0},{"dataset":"DIGINETICA","method":"Proposed-ODD (CB)","k":7,"hr":16.4},{"dataset":"DIGINETICA","method":"Proposed-ODD (CB)","k":8,"hr":17.7},{"dataset":"DIGINETICA","method":"Proposed-ODD (CB)","k":9,"hr":18.9},{"dataset":"DIGINETICA","method":"Proposed-ODD (CB)","k":10,"hr":20.0},{"dataset":"DIGINETICA","method":"Proposed-ODD (CB)","k":11,"hr":21.0},{"dataset":"DIGINETICA","method":"Proposed-ODD (CB)","k":12,"hr":21.9},{"dataset":"DIGINETICA","method":"Proposed-ODD (CB)","k":13,"hr":22.9},{"dataset":"DIGINETICA","method":"Proposed-ODD (CB)","k":14,"hr":23.8},{"dataset":"DIGINETICA","method":"Proposed-ODD (CB)","k":15,"hr":24.8},{"dataset":"DIGINETICA","method":"Proposed-ODD (CB)","k":16,"hr":25.7},{"dataset":"DIGINETICA","method":"Proposed-ODD (CB)","k":17,"hr":26.6},{"dataset":"DIGINETICA","method":"Proposed-ODD (CB)","k":18,"hr":27.5},{"dataset":"DIGINETICA","method":"Proposed-ODD (CB)","k":19,"hr":28.4},{"dataset":"DIGINETICA","method":"Proposed-ODD (CB)","k":20,"hr":29.2}
  ]},
  "hconcat": [
    {
      "title": "Trivago",
      "width": 412, "height": 362,
      "transform": [{"filter": "datum.dataset === 'Trivago'"}],
      "mark": {"type": "line", "strokeWidth": 3, "clip": true},
      "encoding": {
        "x": {"field": "k", "type": "quantitative", "scale": {"domain": [0.05, 20.95], "nice": false, "zero": false}, "axis": {"values": [4, 8, 12, 16, 20], "title": "k", "titleFontStyle": "italic"}},
        "y": {"field": "hr", "type": "quantitative", "scale": {"domain": [-1.31, 40.26], "nice": false, "zero": false}, "axis": {"values": [0, 10, 20, 30, 40], "title": "HR@k [%]", "titlePadding": 6}},
        "color": {"field": "method", "type": "nominal", "title": null, "scale": {"domain": ["FPMC", "GRU4Rec", "Word2Vec+kNN (SG)", "Word2Vec+kNN (CB)", "Proposed-SIM (SG)", "Proposed-SIM (CB)", "Proposed-ODD (SG)", "Proposed-ODD (CB)"], "range": ["#d62728", "#9467bd", "#2ca02c", "#2ca02c", "#1f77b4", "#1f77b4", "#ff7f0e", "#ff7f0e"]}},
        "strokeDash": {"field": "method", "type": "nominal", "title": null, "scale": {"domain": ["FPMC", "GRU4Rec", "Word2Vec+kNN (SG)", "Word2Vec+kNN (CB)", "Proposed-SIM (SG)", "Proposed-SIM (CB)", "Proposed-ODD (SG)", "Proposed-ODD (CB)"], "range": [[1, 0], [1, 0], [1, 0], [11, 5], [1, 0], [11, 5], [1, 0], [11, 5]]}}
      }
    },
    {
      "title": "REES46",
      "width": 412, "height": 362,
      "transform": [{"filter": "datum.dataset === 'REES46'"}],
      "mark": {"type": "line", "strokeWidth": 3, "clip": true},
      "encoding": {
        "x": {"field": "k", "type": "quantitative", "scale": {"domain": [0.05, 20.95], "nice": false, "zero": false}, "axis": {"values": [4, 8, 12, 16, 20], "title": "k", "titleFontStyle": "italic"}},
        "y": {"field": "hr", "type": "quantitative", "scale": {"domain": [-1.31, 40.26], "nice": false, "zero": false}, "axis": {"values": [0, 10, 20, 30, 40], "title": null, "labels": false}},
        "color": {"field": "method", "type": "nominal", "title": null, "scale": {"domain": ["FPMC", "GRU4Rec", "Word2Vec+kNN (SG)", "Word2Vec+kNN (CB)", "Proposed-SIM (SG)", "Proposed-SIM (CB)", "Proposed-ODD (SG)", "Proposed-ODD (CB)"], "range": ["#d62728", "#9467bd", "#2ca02c", "#2ca02c", "#1f77b4", "#1f77b4", "#ff7f0e", "#ff7f0e"]}},
        "strokeDash": {"field": "method", "type": "nominal", "title": null, "scale": {"domain": ["FPMC", "GRU4Rec", "Word2Vec+kNN (SG)", "Word2Vec+kNN (CB)", "Proposed-SIM (SG)", "Proposed-SIM (CB)", "Proposed-ODD (SG)", "Proposed-ODD (CB)"], "range": [[1, 0], [1, 0], [1, 0], [11, 5], [1, 0], [11, 5], [1, 0], [11, 5]]}}
      }
    },
    {
      "title": "DIGINETICA",
      "width": 412, "height": 362,
      "transform": [{"filter": "datum.dataset === 'DIGINETICA'"}],
      "mark": {"type": "line", "strokeWidth": 3, "clip": true},
      "encoding": {
        "x": {"field": "k", "type": "quantitative", "scale": {"domain": [0.05, 20.95], "nice": false, "zero": false}, "axis": {"values": [4, 8, 12, 16, 20], "title": "k", "titleFontStyle": "italic"}},
        "y": {"field": "hr", "type": "quantitative", "scale": {"domain": [-1.31, 40.26], "nice": false, "zero": false}, "axis": {"values": [0, 10, 20, 30, 40], "title": null, "labels": false}},
        "color": {"field": "method", "type": "nominal", "title": null, "scale": {"domain": ["FPMC", "GRU4Rec", "Word2Vec+kNN (SG)", "Word2Vec+kNN (CB)", "Proposed-SIM (SG)", "Proposed-SIM (CB)", "Proposed-ODD (SG)", "Proposed-ODD (CB)"], "range": ["#d62728", "#9467bd", "#2ca02c", "#2ca02c", "#1f77b4", "#1f77b4", "#ff7f0e", "#ff7f0e"]}},
        "strokeDash": {"field": "method", "type": "nominal", "title": null, "scale": {"domain": ["FPMC", "GRU4Rec", "Word2Vec+kNN (SG)", "Word2Vec+kNN (CB)", "Proposed-SIM (SG)", "Proposed-SIM (CB)", "Proposed-ODD (SG)", "Proposed-ODD (CB)"], "range": [[1, 0], [1, 0], [1, 0], [11, 5], [1, 0], [11, 5], [1, 0], [11, 5]]}}
      }
    }
  ]
}
